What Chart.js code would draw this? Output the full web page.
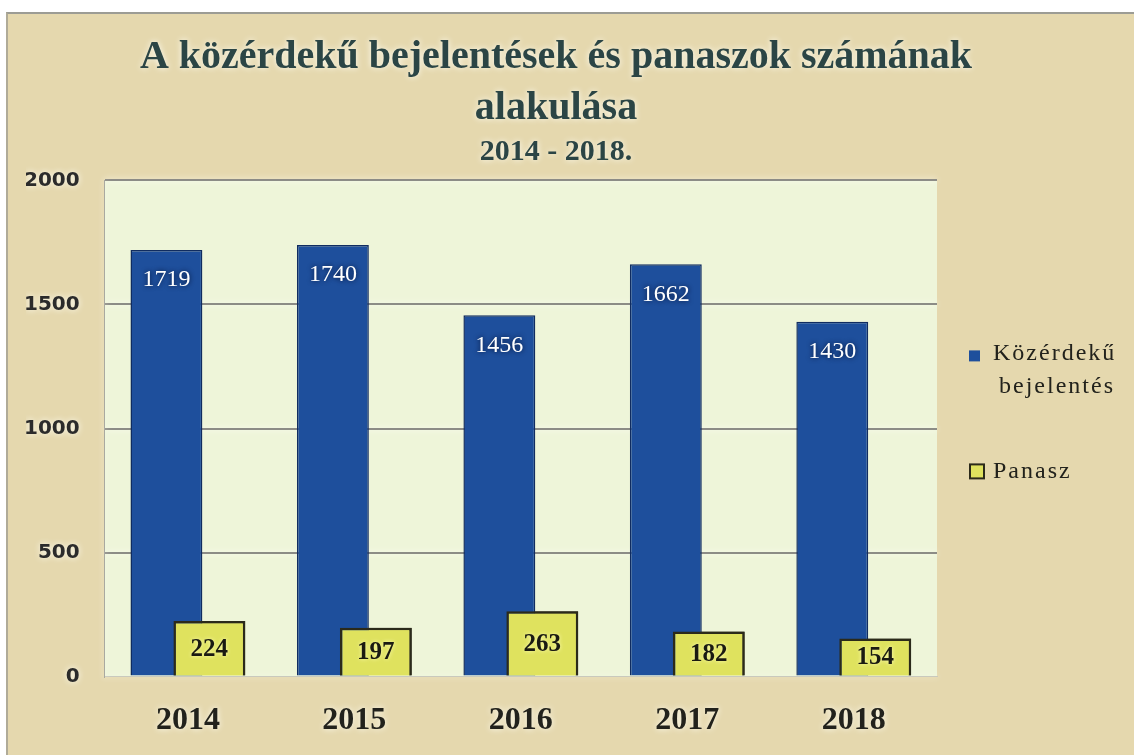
<!DOCTYPE html>
<html>
<head>
<meta charset="utf-8">
<script src="https://cdn.jsdelivr.net/npm/chart.js@4.4.1/dist/chart.umd.min.js"></script>
<style>
  html, body { margin: 0; padding: 0; background: #fff; }
  #frame {
    position: absolute; left: 6px; top: 12px; width: 1128px; height: 743px;
    box-sizing: border-box; background: #e5d8ae;
    border-top: 2px solid #9c9c94; border-left: 2px solid #b0ab98;
  }
  #wrap { position: absolute; left: 0; top: 0; width: 1126px; height: 741px; }
</style>
</head>
<body>
<div id="frame"><div id="wrap"><canvas id="chart"></canvas></div></div>
<script>
// data
var years = ['2014', '2015', '2016', '2017', '2018'];
var kozerdeku = [1719, 1740, 1456, 1662, 1430];
var panasz = [224, 197, 263, 182, 154];
var yTicks = [0, 500, 1000, 1500, 2000];
var seriesNames = ['Közérdekű bejelentés', 'Panasz'];
var legendLines = ['Közérdekű', 'bejelentés'];
var titleLines = ['A közérdekű bejelentések és panaszok számának', 'alakulása'];
var subtitleText = '2014 - 2018.';

var BLUE = '#1e4f9c';
var YELLOW = '#dfe25e';

// plot area fill + white glow for texts drawn before the bars
var plotBg = {
  id: 'plotBg',
  beforeDraw: function (chart) {
    var a = chart.chartArea, ctx = chart.ctx;
    ctx.save();
    ctx.fillStyle = '#eef5d9';
    ctx.fillRect(a.left, a.top, a.right - a.left, a.bottom - a.top);
    ctx.restore();
    ctx.shadowColor = 'rgba(255,255,248,0.95)';
    ctx.shadowBlur = 6;
  },
  beforeDatasetsDraw: function (chart) {
    chart.ctx.shadowColor = 'rgba(0,0,0,0)';
    chart.ctx.shadowBlur = 0;
  }
};

// yellow boxes sit in front of the blue bars, then the numbers
var valueLabels = {
  id: 'valueLabels',
  afterDatasetsDraw: function (chart) {
    var ctx = chart.ctx;
    chart.data.datasets.forEach(function (ds, i) {
      if (ds.front) {
        chart.getDatasetMeta(i).data.forEach(function (bar) { bar.draw(ctx); });
      }
    });
    chart.data.datasets.forEach(function (ds, i) {
      var meta = chart.getDatasetMeta(i);
      meta.data.forEach(function (bar, j) {
        var v = ds.data[j];
        ctx.save();
        ctx.textAlign = 'center';
        ctx.textBaseline = 'middle';
        if (ds.valueStyle === 'light') {
          ctx.font = '24px "Liberation Serif"';
          ctx.fillStyle = '#ffffff';
          ctx.shadowColor = 'rgba(5,15,45,0.95)';
          ctx.shadowBlur = 5;
          ctx.fillText(String(v), bar.x, bar.y + 30);
        } else {
          ctx.font = 'bold 25px "Liberation Serif"';
          ctx.fillStyle = '#1a1a12';
          ctx.shadowColor = 'rgba(255,255,190,0.9)';
          ctx.shadowBlur = 4;
          ctx.fillText(String(v), bar.x, (bar.y + bar.base) / 2 + 1);
        }
        ctx.restore();
      });
    });
  }
};

// legend on the right, wrapped like the original
var sideLegend = {
  id: 'sideLegend',
  afterDraw: function (chart) {
    var ctx = chart.ctx;
    var x0 = chart.chartArea.right + 32;
    var y0 = chart.chartArea.top;
    ctx.save();
    ctx.shadowColor = 'rgba(0,0,0,0)';
    ctx.fillStyle = BLUE;
    ctx.fillRect(x0, y0 + 170, 11, 11);
    ctx.fillStyle = YELLOW;
    ctx.fillRect(x0 + 1, y0 + 284, 14, 14);
    ctx.strokeStyle = '#2b2a1a';
    ctx.lineWidth = 2;
    ctx.strokeRect(x0 + 1, y0 + 284, 14, 14);

    ctx.fillStyle = '#22221c';
    ctx.font = '24px "Liberation Serif"';
    ctx.letterSpacing = '2px';
    ctx.textBaseline = 'alphabetic';
    ctx.textAlign = 'left';
    ctx.fillText(legendLines[0], x0 + 24, y0 + 180);
    ctx.textAlign = 'center';
    ctx.fillText(legendLines[1], x0 + 88, y0 + 213);
    ctx.textAlign = 'left';
    ctx.fillText(seriesNames[1], x0 + 24, y0 + 298);
    ctx.restore();
  }
};

var ctx = document.getElementById('chart');
var chart = new Chart(ctx, {
  type: 'bar',
  data: {
    labels: years,
    datasets: [
      {
        label: seriesNames[0], data: kozerdeku,
        backgroundColor: BLUE, borderColor: '#102c60', borderWidth: 1.5,
        valueStyle: 'light'
      },
      {
        label: seriesNames[1], data: panasz,
        backgroundColor: YELLOW, borderColor: '#2b2a1a', borderWidth: 2.5,
        valueStyle: 'dark', front: true
      }
    ]
  },
  options: {
    responsive: true,
    maintainAspectRatio: false,
    animation: false,
    layout: { padding: { left: 18, right: 48, top: 0, bottom: 19 } },
    datasets: {
      bar: { categoryPercentage: 0.516, barPercentage: 1.674 }
    },
    plugins: {
      legend: { display: false },
      tooltip: { enabled: false },
      title: {
        display: true, text: titleLines, color: '#2b4545',
        font: { family: 'Liberation Serif', size: 40, weight: 'bold', lineHeight: 1.28 },
        padding: { top: 18, bottom: 0 }
      },
      subtitle: {
        display: true, text: subtitleText, color: '#2b4545',
        font: { family: 'Liberation Serif', size: 30, weight: 'bold' },
        padding: { top: 0, bottom: 10 }
      }
    },
    scales: {
      x: {
        offset: true,
        grid: { display: false, drawTicks: false },
        border: { display: true, color: '#c9c9bd', width: 1 },
        ticks: { color: '#22221c', padding: 25, font: { family: 'Liberation Serif', size: 32, weight: 'bold' } },
        afterFit: function (s) { s.height -= 29; }
      },
      y: {
        min: 0, max: 2000,
        afterBuildTicks: function (s) { s.ticks = yTicks.map(function (v) { return { value: v }; }); },
        ticks: {
          color: '#2b2b2b', padding: 25, font: { family: 'DejaVu Sans', size: 20, weight: 'bold' },
          callback: function (v) { return String(v); }
        },
        grid: {
          drawTicks: false, lineWidth: 2,
          color: function (c) { return c.tick && c.tick.value === 0 ? 'rgba(0,0,0,0)' : '#8c8c86'; }
        },
        border: { display: true, color: '#a9a9a0', width: 1 },
        afterFit: function (s) { s.width -= 27; }
      },
      yPad: {
        position: 'right', display: true,
        grid: { display: false }, ticks: { display: false }, border: { display: false },
        afterFit: function (s) { s.width = 149; }
      }
    }
  },
  plugins: [plotBg, valueLabels, sideLegend]
});
</script>
</body>
</html>
